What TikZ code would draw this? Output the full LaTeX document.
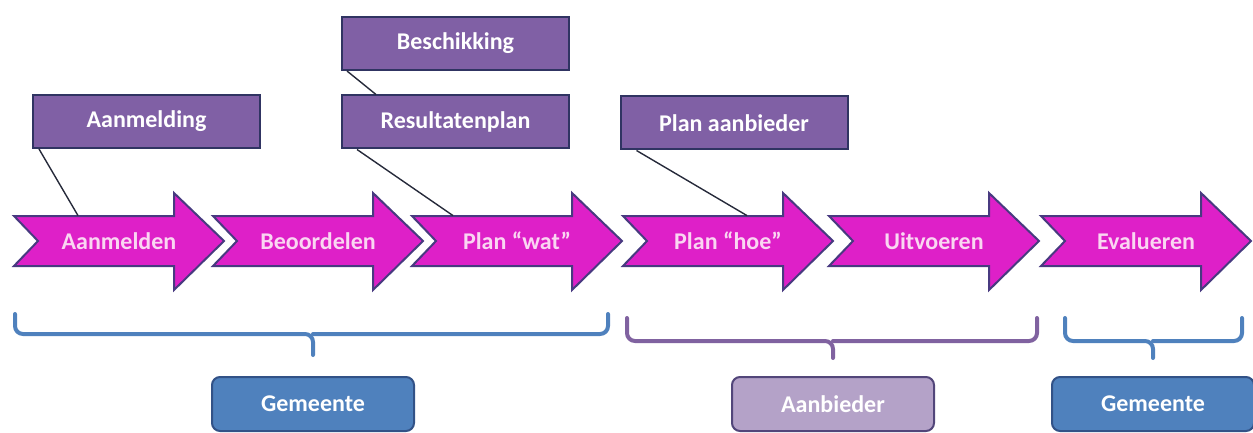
\documentclass[tikz,border=0pt]{standalone}
\usepackage{fontspec}
\setmainfont{Carlito}
\usepackage{tikz}
\usetikzlibrary{calc}
\definecolor{mymagenta}{RGB}{222,32,200}
\definecolor{myedge}{RGB}{72,58,128}
\definecolor{mypink}{RGB}{250,214,242}
\definecolor{mypurple}{RGB}{128,96,165}
\definecolor{mydark}{RGB}{48,52,98}
\definecolor{myline}{RGB}{38,42,58}
\definecolor{myblue}{RGB}{79,129,189}
\definecolor{mybluedk}{RGB}{50,82,135}
\definecolor{mylilac}{RGB}{180,162,200}
\definecolor{mylilacdk}{RGB}{82,70,122}
\definecolor{bracepurple}{RGB}{128,98,160}
\tikzset{
  steparrow/.style={fill=mymagenta, draw=myedge, line width=1pt, line join=miter},
  steptext/.style={text=mypink, font=\large\bfseries, minimum height=25pt, inner sep=0pt},
  docbox/.style={rectangle, draw=mydark, fill=mypurple, text=white,
    minimum width=113.5pt, minimum height=26.5pt, inner sep=0pt,
    font=\large\bfseries, line width=1pt},
  partybox/.style={rectangle, rounded corners=4pt, text=white,
    minimum width=101pt, minimum height=27pt, inner sep=0pt,
    font=\large\bfseries, line width=1pt},
  link/.style={draw=myline, line width=0.7pt},
  bracket/.style={line width=2pt, rounded corners=4pt, line cap=round}
}
\begin{document}
\begin{tikzpicture}[x=0.5pt, y=-0.5pt]
  \useasboundingbox (0,0) rectangle (1253,433);

  % Process arrows
  \foreach \L/\nm/\txt in {14/aanmelden/Aanmelden, 213/beoordelen/Beoordelen,
      412/planwat/{Plan “wat”}, 623/planhoe/{Plan “hoe”},
      829/uitvoeren/Uitvoeren, 1041/evalueren/Evalueren}{
    \draw[steparrow] (\L,216) -- (\L+160,216) -- (\L+160,193) -- (\L+210,241)
      -- (\L+160,290) -- (\L+160,266) -- (\L,266) -- (\L+24,241) -- cycle;
    \node[steptext] (\nm) at (\L+105,241) {\txt};
  }

  % Documents
  \node[docbox] (aanmelding) at (146.5,121.5) {Aanmelding};
  \node[docbox] (beschikking) at (455.5,43.5) {Beschikking};
  \node[docbox] (resultatenplan) at (455.5,122) {Resultatenplan};
  \node[docbox] (planaanbieder) at (734,123) {Plan aanbieder};

  % Links
  \draw[link] ($(aanmelding.south west)+(7,0)$) -- ($(aanmelden.north)+(-41,0)$);
  \draw[link] ($(beschikking.south west)+(6,0)$) -- ($(resultatenplan.north west)+(35,0)$);
  \draw[link] ($(resultatenplan.south west)+(16,0)$) -- ($(planwat.north)+(-64,0)$);
  \draw[link] ($(planaanbieder.south west)+(17,0)$) -- ($(planhoe.north)+(19,0)$);

  % Brackets
  \draw[bracket, myblue] (15,314) |- (313,334) -- (313,355);
  \draw[bracket, myblue] (608,314) |- (313,334);
  \draw[bracket, bracepurple] (627,318) |- (833,341) -- (833,358);
  \draw[bracket, bracepurple] (1037,318) |- (833,341);
  \draw[bracket, myblue] (1065,318) |- (1153,341) -- (1153,358);
  \draw[bracket, myblue] (1242,318) |- (1153,341);

  % Parties
  \node[partybox, draw=mybluedk, fill=myblue] (gemeente1) at (313,404) {Gemeente};
  \node[partybox, draw=mylilacdk, fill=mylilac] (aanbieder) at (833,404) {Aanbieder};
  \node[partybox, draw=mybluedk, fill=myblue] (gemeente2) at (1153,404) {Gemeente};
\end{tikzpicture}
\end{document}
